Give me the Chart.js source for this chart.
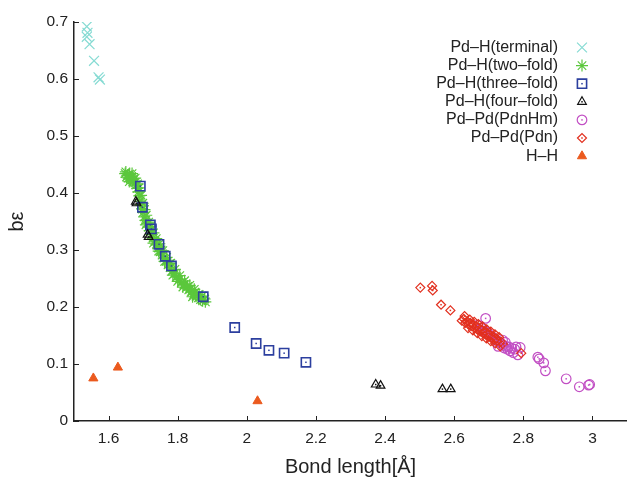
<!DOCTYPE html>
<html>
<head>
<meta charset="utf-8">
<title>Bond length vs bε</title>
<script src="https://cdn.jsdelivr.net/npm/chart.js@4.4.1/dist/chart.umd.min.js"></script>
<style>
  html, body { margin: 0; padding: 0; background: #fff; }
  #wrap { width: 627px; height: 480px; }
</style>
</head>
<body>
<div id="wrap"><canvas id="chart" width="627" height="480"></canvas></div>
<script>
// Bond strength (bε) vs bond length scatter, one dataset per bond type.
// Points are [bond length Å, bε] pairs.

const X_TICKS = [1.6, 1.8, 2, 2.2, 2.4, 2.6, 2.8, 3];
const Y_TICKS = [0, 0.1, 0.2, 0.3, 0.4, 0.5, 0.6, 0.7];

const terminalPts = [
  [1.537, 0.692], [1.539, 0.681], [1.537, 0.674], [1.545, 0.661],
  [1.558, 0.632], [1.571, 0.603], [1.575, 0.599],
];

const twoFoldPts = [
  [1.648, 0.434], [1.652, 0.428], [1.655, 0.431], [1.658, 0.426], [1.661, 0.433],
  [1.664, 0.423], [1.667, 0.429], [1.670, 0.420], [1.673, 0.425], [1.676, 0.418],
  [1.679, 0.414], [1.683, 0.408], [1.686, 0.402], [1.689, 0.395], [1.691, 0.386],
  [1.694, 0.379], [1.697, 0.372], [1.700, 0.366], [1.703, 0.358], [1.707, 0.352],
  [1.711, 0.347], [1.715, 0.340], [1.719, 0.334], [1.724, 0.327], [1.729, 0.321],
  [1.734, 0.316], [1.739, 0.309], [1.744, 0.304], [1.749, 0.297], [1.755, 0.291],
  [1.760, 0.286], [1.766, 0.280], [1.772, 0.274], [1.778, 0.269], [1.784, 0.263],
  [1.790, 0.258], [1.797, 0.253], [1.804, 0.248], [1.811, 0.243], [1.818, 0.239],
  [1.825, 0.234], [1.832, 0.230], [1.839, 0.226], [1.846, 0.222], [1.853, 0.219],
  [1.860, 0.216], [1.866, 0.213], [1.872, 0.211], [1.878, 0.214], [1.708, 0.344],
  [1.723, 0.335], [1.752, 0.300], [1.776, 0.276], [1.800, 0.245], [1.829, 0.236],
  [1.850, 0.226], [1.650, 0.437], [1.660, 0.420], [1.668, 0.434], [1.677, 0.426],
  [1.684, 0.416], [1.688, 0.409], [1.694, 0.396], [1.699, 0.382], [1.704, 0.371],
  [1.709, 0.361], [1.716, 0.349], [1.722, 0.342], [1.730, 0.330], [1.738, 0.320],
  [1.747, 0.311], [1.757, 0.299], [1.768, 0.287], [1.780, 0.277], [1.792, 0.266],
  [1.806, 0.255], [1.820, 0.246], [1.835, 0.238], [1.848, 0.231], [1.862, 0.222],
  [1.870, 0.219], [1.730, 0.312], [1.745, 0.298], [1.762, 0.280], [1.786, 0.256],
  [1.815, 0.235], [1.843, 0.218], [1.880, 0.209],
];

const threeFoldPts = [
  [1.692, 0.412], [1.698, 0.375], [1.721, 0.344], [1.724, 0.337], [1.746, 0.310],
  [1.764, 0.289], [1.782, 0.272], [1.874, 0.218], [1.965, 0.164], [2.027, 0.136],
  [2.064, 0.124], [2.108, 0.119], [2.171, 0.103],
];

const fourFoldPts = [
  [1.679, 0.385], [1.681, 0.382], [1.713, 0.327], [1.716, 0.323],
  [2.373, 0.064], [2.387, 0.062], [2.566, 0.056], [2.590, 0.056],
];

const pdnHmPts = [
  [2.691, 0.180], [2.668, 0.168], [2.679, 0.163], [2.688, 0.158], [2.697, 0.155],
  [2.703, 0.150], [2.712, 0.147], [2.718, 0.144], [2.724, 0.141], [2.730, 0.139],
  [2.736, 0.136], [2.741, 0.133], [2.745, 0.128], [2.750, 0.131], [2.754, 0.126],
  [2.758, 0.130], [2.762, 0.123], [2.766, 0.128], [2.771, 0.120], [2.775, 0.126],
  [2.779, 0.130], [2.784, 0.116], [2.791, 0.129], [2.740, 0.142], [2.748, 0.138],
  [2.727, 0.131], [2.842, 0.112], [2.846, 0.109], [2.859, 0.102], [2.864, 0.088],
  [2.924, 0.074], [2.962, 0.060], [2.989, 0.063], [2.992, 0.064],
];

const pdnPts = [
  [2.502, 0.234], [2.536, 0.237], [2.538, 0.229], [2.562, 0.204], [2.589, 0.194],
  [2.622, 0.176], [2.628, 0.179], [2.632, 0.172], [2.638, 0.175], [2.642, 0.169],
  [2.647, 0.172], [2.652, 0.166], [2.656, 0.169], [2.660, 0.163], [2.664, 0.166],
  [2.668, 0.160], [2.672, 0.163], [2.676, 0.157], [2.680, 0.160], [2.684, 0.154],
  [2.688, 0.157], [2.692, 0.151], [2.696, 0.154], [2.700, 0.148], [2.704, 0.151],
  [2.708, 0.145], [2.712, 0.148], [2.716, 0.142], [2.721, 0.145], [2.726, 0.140],
  [2.731, 0.137], [2.736, 0.139], [2.741, 0.135], [2.794, 0.119], [2.630, 0.184],
  [2.645, 0.178], [2.658, 0.174], [2.670, 0.170], [2.682, 0.166], [2.694, 0.161],
  [2.706, 0.157], [2.718, 0.152], [2.730, 0.147], [2.640, 0.163], [2.654, 0.159],
  [2.667, 0.154], [2.680, 0.149], [2.693, 0.145], [2.706, 0.140], [2.719, 0.136],
  [2.733, 0.131],
];

const hhPts = [[1.556, 0.075], [1.627, 0.094], [2.031, 0.035]];

const FONT = "'Liberation Sans', Arial, Helvetica, sans-serif";
const AXIS_COLOR = "#222";

const toXY = (pts) => pts.map((p) => ({ x: p[0], y: p[1] }));

function series(label, pts, color, style, radius, opts) {
  return Object.assign({
    label,
    data: toXY(pts),
    pointStyle: style,
    pointRadius: radius,
    pointHoverRadius: radius,
    borderColor: color,
    backgroundColor: "rgba(0,0,0,0)",
    borderWidth: 1.2,
    dot: false,
  }, opts || {});
}

// gnuplot draws later series on top; chart.js draws lower `order` on top
const datasets = [
  series("Pd\u2013H(terminal)", terminalPts, "#86dbd3", "crossRot", 7, { order: 6 }),
  series("Pd\u2013H(two\u2013fold)", twoFoldPts, "#5bc73c", "star", 6, { order: 5 }),
  series("Pd\u2013H(three\u2013fold)", threeFoldPts, "#2c3f9f", "rect", 6.5, { order: 4, borderWidth: 1.6, dot: true }),
  series("Pd\u2013H(four\u2013fold)", fourFoldPts, "#111111", "triangle", 5, { order: 3, dot: true }),
  series("Pd\u2013Pd(PdnHm)", pdnHmPts, "#c24fc4", "circle", 4.8, { order: 2, dot: true }),
  series("Pd\u2013Pd(Pdn)", pdnPts, "#e2301f", "rectRot", 4.5, { order: 1, dot: true }),
  series("H\u2013H", hhPts, "#eb5a1e", "triangle", 5.3, { order: 0, backgroundColor: "#eb5a1e", borderWidth: 1 }),
];

function drawMarker(ctx, ds, x, y) {
  ctx.strokeStyle = ds.borderColor;
  ctx.fillStyle = ds.backgroundColor;
  ctx.lineWidth = ds.borderWidth;
  Chart.helpers.drawPoint(ctx, {
    pointStyle: ds.pointStyle, radius: ds.pointRadius,
    borderWidth: ds.borderWidth, rotation: 0,
  }, x, y);
  if (ds.dot) {
    ctx.fillStyle = ds.borderColor;
    ctx.fillRect(x - 0.75, y - 0.75, 1.5, 1.5);
  }
}

// small centre dot inside the hollow gnuplot markers
const centreDots = {
  id: "centreDots",
  afterDatasetsDraw(chart) {
    const ctx = chart.ctx;
    ctx.save();
    chart.data.datasets.forEach((ds, i) => {
      if (!ds.dot) return;
      ctx.fillStyle = ds.borderColor;
      chart.getDatasetMeta(i).data.forEach((el) => {
        ctx.fillRect(el.x - 0.75, el.y - 0.75, 1.5, 1.5);
      });
    });
    ctx.restore();
  },
};

// tick marks pointing into the plot, like gnuplot
const inwardTicks = {
  id: "inwardTicks",
  afterDatasetsDraw(chart) {
    const { ctx, chartArea, scales } = chart;
    ctx.save();
    ctx.strokeStyle = AXIS_COLOR;
    ctx.lineWidth = 1;
    ctx.beginPath();
    scales.x.ticks.forEach((t) => {
      const px = Math.round(scales.x.getPixelForValue(t.value)) + 0.5;
      ctx.moveTo(px, chartArea.bottom);
      ctx.lineTo(px, chartArea.bottom - 5);
    });
    scales.y.ticks.forEach((t) => {
      const py = Math.round(scales.y.getPixelForValue(t.value)) + 0.5;
      ctx.moveTo(chartArea.left, py);
      ctx.lineTo(chartArea.left + 5, py);
    });
    ctx.stroke();
    ctx.restore();
  },
};

// legend: right-aligned text with the marker to its right
const LEGEND = { textRight: 558, markerX: 582, top: 47.5, rowGap: 18.1 };
const sideLegend = {
  id: "sideLegend",
  afterDraw(chart) {
    const ctx = chart.ctx;
    ctx.save();
    ctx.font = "16px " + FONT;
    ctx.textAlign = "right";
    ctx.textBaseline = "middle";
    chart.data.datasets.forEach((ds, i) => {
      const y = LEGEND.top + i * LEGEND.rowGap;
      ctx.fillStyle = AXIS_COLOR;
      ctx.fillText(ds.label, LEGEND.textRight, y);
      drawMarker(ctx, ds, LEGEND.markerX, y);
    });
    ctx.restore();
  },
};

const tickFont = { family: FONT, size: 15.5 };
const titleFont = { family: FONT, size: 20 };

new Chart(document.getElementById("chart"), {
  type: "scatter",
  data: { datasets },
  plugins: [centreDots, inwardTicks, sideLegend],
  options: {
    responsive: false,
    animation: false,
    events: [],
    devicePixelRatio: 1,
    layout: { autoPadding: false, padding: { top: 22, right: 0, bottom: 0, left: 0 } },
    plugins: { legend: { display: false }, tooltip: { enabled: false } },
    scales: {
      x: {
        type: "linear",
        min: 1.5,
        max: 3.1,
        afterBuildTicks: (s) => { s.ticks = X_TICKS.map((v) => ({ value: v })); },
        afterFit: (s) => { s.height = 59; },
        border: { display: true, color: AXIS_COLOR, width: 1.5 },
        grid: { display: false, drawTicks: false },
        ticks: {
          padding: 8, autoSkip: false, maxRotation: 0,
          color: AXIS_COLOR, font: tickFont,
          callback: (v) => String(v),
        },
        title: {
          display: true, text: "Bond length[Å]", color: AXIS_COLOR,
          font: titleFont, padding: { top: 0, bottom: 1 },
        },
      },
      y: {
        type: "linear",
        min: 0,
        max: 0.7,
        afterBuildTicks: (s) => { s.ticks = Y_TICKS.map((v) => ({ value: v })); },
        afterFit: (s) => { s.width = 74; },
        border: { display: true, color: AXIS_COLOR, width: 1.5 },
        grid: { display: false, drawTicks: false },
        ticks: {
          padding: 6, autoSkip: false,
          color: AXIS_COLOR, font: tickFont,
          callback: (v) => String(v),
        },
        title: {
          display: true, text: "bε", color: AXIS_COLOR,
          font: titleFont, padding: { top: 5, bottom: 0 },
        },
      },
    },
  },
});
</script>
</body>
</html>
